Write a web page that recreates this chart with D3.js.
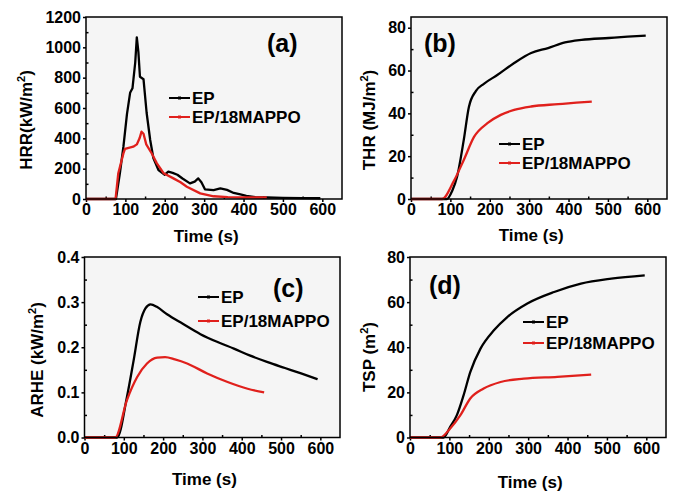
<!DOCTYPE html>
<html>
<head>
<meta charset="utf-8">
<script src="https://cdn.jsdelivr.net/npm/d3@7"></script>
<style>
  body { margin: 0; background: #fff; }
  svg { display: block; font-family: "Liberation Sans", Arial, sans-serif; font-weight: bold; }
  .tick text { font-size: 16px; font-weight: bold; fill: #000; }
  .domain { display: none; }
</style>
</head>
<body>
<svg id="chart" width="676" height="493"></svg>
<script>
// ---- data: [time (s), value] ----
const xTicks = [0, 100, 200, 300, 400, 500, 600]
const seriesNames = ['EP', 'EP/18MAPPO']

const hrrEP = [[0,0],[20,0],[40,0],[60,0],[76,0],[86,170],[95,345],[104,560],[112,700],[118,730],[125,900],[129,1066],[133,970],[137,806],[146,790],[154,567],[163,389],[171,270],[184,191],[200,160],[209,180],[220,172],[232,160],[245,135],[264,103],[276,115],[285,136],[293,110],[302,64],[324,59],[341,70],[358,60],[375,40],[392,30],[407,20],[430,12],[460,10],[500,8],[550,6],[595,5]]
const hrrMAPPO = [[0,0],[20,0],[40,0],[60,0],[75,0],[82,170],[95,301],[99,330],[120,345],[129,360],[136,400],[141,444],[146,430],[153,360],[167,300],[180,235],[197,170],[222,136],[240,110],[256,81],[290,37],[324,18],[360,12],[400,10],[430,10],[459,10]]

const thrEP = [[0,0],[30,0],[60,0],[91,0],[105,4],[117,10.4],[134,27.6],[147,43],[165,50.5],[185,53.8],[220,58],[262,63.5],[305,68.2],[348,70.5],[391,73.1],[433,74.3],[502,75.2],[550,75.8],[596,76.3]]
const thrMAPPO = [[0,0],[30,0],[60,0],[79,0],[108,8.1],[134,18.2],[160,29],[194,35.4],[228,39.3],[262,41.6],[305,43.2],[374,44.3],[420,45],[459,45.5]]

const arheEP = [[0,0],[30,0],[60,0],[83,0],[108,0.09],[125,0.171],[142,0.256],[155,0.286],[168,0.295],[185,0.289],[210,0.273],[250,0.252],[295,0.229],[340,0.211],[380,0.197],[420,0.182],[466,0.167],[510,0.154],[551,0.142],[593,0.129]]
const arheMAPPO = [[0,0],[30,0],[60,0],[78,0],[108,0.083],[134,0.134],[159,0.164],[185,0.177],[205,0.178],[230,0.173],[261,0.164],[312,0.142],[364,0.123],[415,0.108],[457,0.1]]

const tspEP = [[0,0],[30,0],[60,0],[85,0],[102,4.7],[119,9.9],[136,18.7],[153,29],[179,39.4],[213,47.5],[247,53.4],[298,59.4],[366,64.5],[434,68.2],[511,70.4],[596,71.9]]
const tspMAPPO = [[0,0],[30,0],[60,0],[77,0],[102,4],[128,9.9],[153,17.3],[187,21.7],[230,24.6],[289,26.1],[374,26.9],[460,27.9]]

const colors = ['#000000', '#e0201c']

// ---- panel layout ----
const panels = [
  { tag: '(a)', series: [hrrEP, hrrMAPPO], yMax: 1200, yStep: 200, fmt: d3.format('d'), curve: d3.curveLinear,
    yTitle: ['HRR(kW/m', '2', ')'], box: [86, 342, 17, 199],
    tagPos: [267, 52], legend: [169, 98, 19], xTitleY: 242, yTitlePos: [32, 120] },
  { tag: '(b)', series: [thrEP, thrMAPPO], yMax: 85, yStep: 20, yTop: 80, fmt: d3.format('d'), curve: d3.curveMonotoneX,
    yTitle: ['THR (MJ/m', '2', ')'], box: [411, 667, 17, 199],
    tagPos: [424, 52], legend: [499, 144, 19], xTitleY: 241, yTitlePos: [375, 120] },
  { tag: '(c)', series: [arheEP, arheMAPPO], yMax: 0.4, yStep: 0.1, fmt: d3.format('.1f'), curve: d3.curveMonotoneX,
    yTitle: ['ARHE (kW/m', '2', ')'], box: [84.5, 340, 257, 437.5],
    tagPos: [273, 297], legend: [198, 297, 24], xTitleY: 485, yTitlePos: [43, 360] },
  { tag: '(d)', series: [tspEP, tspMAPPO], yMax: 80, yStep: 20, fmt: d3.format('d'), curve: d3.curveMonotoneX,
    yTitle: ['TSP (m', '2', ')'], box: [410, 666, 257, 437.5],
    tagPos: [429, 294], legend: [523, 322, 21], xTitleY: 488, yTitlePos: [375, 357] }
]

const $svg = d3.select('#chart')

function drawPanel(p) {
  const [x0, x1, y0, y1] = p.box
  const scaleX = d3.scaleLinear().domain([0, 650]).range([x0, x1])
  const scaleY = d3.scaleLinear().domain([0, p.yMax]).range([y1, y0])
  const yTop = p.yTop || p.yMax
  const yMajor = d3.range(0, yTop + p.yStep / 2, p.yStep)
  const yMinor = d3.range(p.yStep / 2, yTop, p.yStep)
  const xMinor = d3.range(50, 650, 100)

  const $g = $svg.append('g')

  $g.append('rect')
    .attr('x', x0).attr('y', y0)
    .attr('width', x1 - x0).attr('height', y1 - y0)
    .attr('fill', '#f5f5f5')

  // minor ticks point inward
  $g.append('g')
    .attr('transform', `translate(0,${y1})`)
    .call(d3.axisBottom(scaleX).tickValues(xMinor).tickSize(-2.5).tickFormat(''))
  $g.append('g')
    .attr('transform', `translate(${x0},0)`)
    .call(d3.axisLeft(scaleY).tickValues(yMinor).tickSize(-2.5).tickFormat(''))

  // major ticks point outward
  $g.append('g')
    .attr('transform', `translate(0,${y1})`)
    .call(d3.axisBottom(scaleX).tickValues(xTicks).tickSize(3).tickPadding(2).tickSizeOuter(0))
  $g.append('g')
    .attr('transform', `translate(${x0},0)`)
    .call(d3.axisLeft(scaleY).tickValues(yMajor).tickFormat(p.fmt).tickSize(3).tickPadding(2).tickSizeOuter(0))

  $g.selectAll('.tick line').attr('stroke', '#000').attr('stroke-width', 1.5)

  const line = d3.line()
    .curve(p.curve)
    .x(d => scaleX(d[0]))
    .y(d => scaleY(d[1]))

  p.series.forEach((data, i) => {
    $g.append('path')
      .datum(data)
      .attr('fill', 'none')
      .attr('stroke', colors[i])
      .attr('stroke-width', 2.3)
      .attr('stroke-linejoin', 'round')
      .attr('d', line)
  })

  // frame
  $g.append('rect')
    .attr('x', x0).attr('y', y0)
    .attr('width', x1 - x0).attr('height', y1 - y0)
    .attr('fill', 'none')
    .attr('stroke', '#000')
    .attr('stroke-width', 1.5)

  // panel tag
  $g.append('text')
    .attr('x', p.tagPos[0]).attr('y', p.tagPos[1])
    .attr('font-size', 25)
    .text(p.tag)

  // legend
  const [lx, ly, lgap] = p.legend
  seriesNames.forEach((name, i) => {
    const y = ly + i * lgap
    $g.append('line')
      .attr('x1', lx).attr('x2', lx + 21)
      .attr('y1', y).attr('y2', y)
      .attr('stroke', colors[i]).attr('stroke-width', 2)
    $g.append('rect')
      .attr('x', lx + 9).attr('y', y - 1.5)
      .attr('width', 3).attr('height', 3)
      .attr('fill', colors[i])
    $g.append('text')
      .attr('x', lx + 23).attr('y', y + 6)
      .attr('font-size', 17)
      .text(name)
  })

  // axis titles
  $g.append('text')
    .attr('x', (scaleX(0) + scaleX(600)) / 2 + 2)
    .attr('y', p.xTitleY)
    .attr('text-anchor', 'middle')
    .attr('font-size', 17)
    .text('Time (s)')

  const $yt = $g.append('text')
    .attr('transform', `translate(${p.yTitlePos[0]},${p.yTitlePos[1]}) rotate(-90)`)
    .attr('text-anchor', 'middle')
    .attr('font-size', 17)
  $yt.append('tspan').text(p.yTitle[0])
  $yt.append('tspan').attr('font-size', 11).attr('dy', -7).text(p.yTitle[1])
  $yt.append('tspan').attr('dy', 7).text(p.yTitle[2])
}

panels.forEach(drawPanel)
</script>
</body>
</html>
